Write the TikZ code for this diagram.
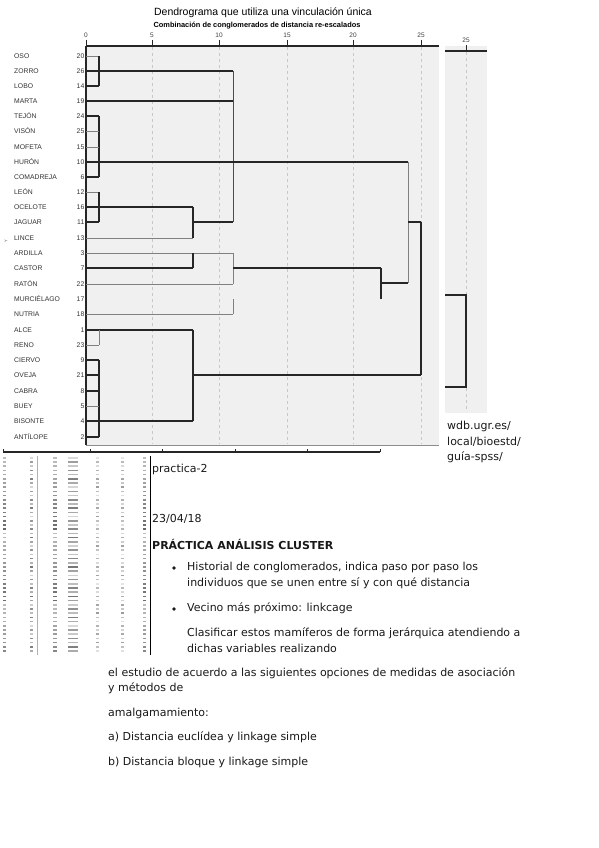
\documentclass[tikz,border=0pt]{standalone}
\usepackage{fontspec}
\setmainfont{DejaVu Sans}
\newfontfamily\arialf{Liberation Sans}
\begin{document}
\begin{tikzpicture}[x=1pt,y=-1pt,
  dk/.style={draw=black!85, line width=1.1pt},
  gy/.style={draw=black!50, line width=0.8pt},
  gridl/.style={draw=black!22, line width=0.6pt, dash pattern=on 3pt off 3pt},
  lbl/.style={font=\arialf\fontsize{6.8}{7}\selectfont, anchor=west, text=black!80, inner sep=0},
  num/.style={font=\arialf\fontsize{6.8}{7}\selectfont, anchor=east, text=black!80, inner sep=0},
  tick/.style={font=\arialf\fontsize{6.5}{7}\selectfont, anchor=center, text=black!75, inner sep=0},
  bul/.style={circle, fill=black!90, inner sep=0, minimum size=3.6pt},
  body/.style={font=\fontsize{11}{13}\selectfont, anchor=west, inner sep=0, text=black!90}]
\useasboundingbox[fill=white] (0,0) rectangle (599,848);

% title
\node[font=\arialf\fontsize{10.5}{12}\selectfont, inner sep=0] (title) at (263,13) {Dendrograma que utiliza una vinculación única};
\node[font=\arialf\bfseries\fontsize{7.4}{8}\selectfont, inner sep=0] (subtitle) at (257,25.5) {Combinación de conglomerados de distancia re-escalados};

% main panel
\fill[black!6] (86,46) rectangle (439,445);
\draw[black!45, line width=0.6pt] (86,445) -- (439,445);
\foreach \gx in {152,219,287,353,421}{\draw[gridl] (\gx,47) -- (\gx,444);}
\draw[black!85, line width=1.1pt] (86,46) -- (439,46);
\draw[black!85, line width=1.1pt] (86,46) -- (86,445);
\foreach \gx/\t in {86/0,152/5,219/10,287/15,353/20,421/25}{
  \draw[black!85, line width=1pt] (\gx,40) -- (\gx,46);
  \node[tick] (t\t) at (\gx,35.5) {\t};
}

% right panel
\fill[black!6] (445,46) rectangle (487,413);
\draw[gridl] (466,52) -- (466,412);
\draw[black!85, line width=1.1pt] (445,51) -- (487,51);
\draw[black!85, line width=1pt] (466,45) -- (466,51);
\node[tick] (r25) at (466,40) {25};
\draw[dk] (445,295) -- (466,295) -- (466,387) -- (445,387);

% labels
\foreach \n/\c/\yy in {OSO/20/56,ZORRO/26/71,LOBO/14/86,MARTA/19/101,TEJÓN/24/116,VISÓN/25/131,MOFETA/15/147,HURÓN/10/162,COMADREJA/6/177,LEÓN/12/192,OCELOTE/16/207,JAGUAR/11/222,LINCE/13/238,ARDILLA/3/253,CASTOR/7/268,RATÓN/22/284,MURCIÉLAGO/17/299,NUTRIA/18/314,ALCE/1/330,RENO/23/345,CIERVO/9/360,OVEJA/21/375,CABRA/8/391,BUEY/5/406,BISONTE/4/421,ANTÍLOPE/2/437}{
  \node[lbl] (l\c) at (14,\yy) {\n};
  \node[num] (n\c) at (84.5,\yy) {\c};
}
\node[font=\arialf\fontsize{4}{5}\selectfont, rotate=90, inner sep=0, text=black!70] (yax) at (6,241) {Y};

% dendrogram
\draw[gy] (86,56) -- (99,56);
\draw[dk] (99,56) -- (99,86);
\draw[dk] (86,86) -- (99,86);
\draw[dk] (86,71) -- (233,71);
\draw[black!70, line width=1pt] (233,71) -- (233,222);
\draw[dk] (86,101) -- (233,101);
\draw[dk] (86,116) -- (99,116);
\draw[dk] (99,116) -- (99,177);
\draw[gy] (86,131) -- (99,131);
\draw[gy] (86,147) -- (99,147);
\draw[dk] (86,162) -- (408,162);
\draw[dk] (86,177) -- (99,177);
\draw[gy] (86,192) -- (99,192);
\draw[dk] (99,192) -- (99,222);
\draw[dk] (86,207) -- (193,207);
\draw[dk] (86,222) -- (99,222);
\draw[dk] (193,207) -- (193,238);
\draw[gy] (86,238) -- (193,238);
\draw[dk] (193,222) -- (233,222);
\draw[gy] (86,253) -- (233,253);
\draw[dk] (193,253) -- (193,268);
\draw[dk] (86,268) -- (193,268);
\draw[gy] (233,253) -- (233,284);
\draw[gy] (86,284) -- (233,284);
\draw[dk] (233,268) -- (381,268);
\draw[dk] (381,268) -- (381,299);
\draw[gy] (233,299) -- (233,314);
\draw[gy] (86,314) -- (233,314);
\draw[gy] (408,162) -- (408,283);
\draw[dk] (381,283) -- (408,283);
\draw[dk] (408,222) -- (421,222);
\draw[dk] (421,222) -- (421,375);
\draw[dk] (193,375) -- (421,375);
\draw[dk] (86,330) -- (193,330);
\draw[gy] (99,330) -- (99,345);
\draw[gy] (86,345) -- (99,345);
\draw[dk] (193,330) -- (193,421);
\draw[dk] (86,360) -- (99,360);
\draw[dk] (99,360) -- (99,437);
\draw[dk] (86,375) -- (99,375);
\draw[dk] (86,391) -- (99,391);
\draw[gy] (86,406) -- (99,406);
\draw[dk] (86,421) -- (193,421);
\draw[dk] (86,437) -- (99,437);

% bottom axis
\draw[black!85, line width=1.1pt] (3,452) -- (380,452);
\foreach \bx in {3,90,162,235,307,380}{\draw[black!85, line width=1pt] (\bx,449) -- (\bx,452);}

% small table marks
\draw[black!30, line width=0.4pt] (37,456) -- (37,655);
\draw[black, line width=1pt] (150,456) -- (150,655);
\foreach \i in {0,...,46}{
  \pgfmathsetmacro{\yy}{457+4.2*\i}
  \pgfmathtruncatemacro{\ga}{25+mod(\i*37,35)}
  \pgfmathtruncatemacro{\gb}{15+mod(\i*23,40)}
  \pgfmathtruncatemacro{\gc}{10+mod(\i*17,30)}
  \fill[black!\ga] (3,\yy) rectangle ++(3,1.5);
  \fill[black!\gb] (30,\yy) rectangle ++(3,1.5);
  \fill[black!\ga] (53,\yy) rectangle ++(4,1.5);
  \fill[black!\gb] (68,\yy) rectangle ++(10,1.5);
  \fill[black!\gc] (96,\yy) rectangle ++(3,1.5);
  \fill[black!\gc] (121,\yy) rectangle ++(3,1.5);
  \fill[black!\ga] (143,\yy) rectangle ++(3,1.5);
}

% side text
\node[body] (u1) at (447,426) {wdb.ugr.es/};
\node[body] (u2) at (447,442) {local/bioestd/};
\node[body] (u3) at (447,457) {guía-spss/};

% body text
\node[body] (p1) at (152,469) {practica-2};
\node[body] (p2) at (152,519) {23/04/18};
\node[body, font=\bfseries\fontsize{11}{13}\selectfont] (p3) at (152,544) {PRÁCTICA ANÁLISIS CLUSTER};
\node[bul] (b1) at (174,568) {};
\node[body] (p4) at (187,567) {Historial de conglomerados, indica paso por paso los};
\node[body] (p5) at (187,583) {individuos que se unen entre sí y con qué distancia};
\node[bul] (b2) at (174,609) {};
\node[body] (p6) at (187,608) {Vecino más próximo: linkcage};
\node[body] (p7) at (187,633) {Clasificar estos mamíferos de forma jerárquica atendiendo a};
\node[body] (p8) at (187,648) {dichas variables realizando};
\node[body] (p9) at (108,673) {el estudio de acuerdo a las siguientes opciones de medidas de asociación};
\node[body] (p10) at (108,688) {y métodos de};
\node[body] (p11) at (108,713) {amalgamamiento:};
\node[body] (p12) at (108,737) {a) Distancia euclídea y linkage simple};
\node[body] (p13) at (108,762) {b) Distancia bloque y linkage simple};
\end{tikzpicture}
\end{document}
